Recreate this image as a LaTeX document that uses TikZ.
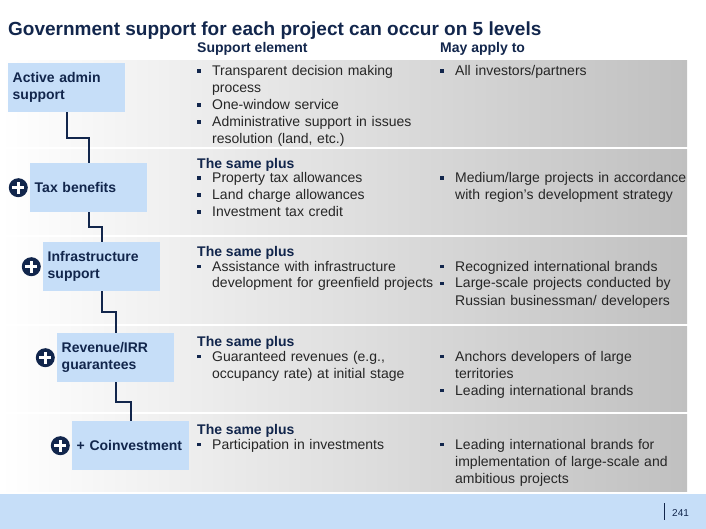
\documentclass[tikz,border=0pt]{standalone}
\usepackage{fontspec}
\setmainfont{Liberation Sans}
\usetikzlibrary{positioning}
\usetikzlibrary{calc}

\definecolor{navy}{RGB}{18,38,76}
\definecolor{boxblue}{RGB}{198,222,248}
\definecolor{txtgray}{RGB}{38,38,38}
\definecolor{bandgray}{RGB}{192,192,192}

\hyphenpenalty=10000
\exhyphenpenalty=10000
\newcommand{\bul}{\textcolor{navy}{\rule[3pt]{3.5pt}{3.5pt}}}
\newcommand{\fitm}{\noindent\hangindent=15pt\hangafter=1\makebox[15pt][l]{\bul}}
\newcommand{\itm}{\par\fitm}

\begin{document}
\begin{tikzpicture}[x=1pt, y=-1pt,
            lvl/.style={fill=boxblue, anchor=north west, minimum width=117pt,
            minimum height=49pt, text width=108pt, align=left, inner xsep=4.5pt,
            inner ysep=0pt, text=navy, font=\bfseries\fontsize{14}{17}\selectfont},
            plus/.style={circle, fill=navy, minimum size=19pt, inner sep=0pt,
            path picture={\draw[white, line width=2.5pt]
            ([xshift=-6pt]path picture bounding box.center) -- ([xshift=6pt]path picture bounding box.center)
            ([yshift=-6pt]path picture bounding box.center) -- ([yshift=6pt]path picture bounding box.center);}},
            link/.style={draw=navy, line width=2pt},
            hdr/.style={anchor=base west, inner sep=0pt, text=navy,
            font=\bfseries\fontsize{14}{17}\selectfont},
            cell/.style={anchor=base west, inner sep=0pt, text width=242pt,
            text=txtgray, font=\fontsize{14}{17}\selectfont},
            wide/.style={cell, text width=262pt}]
        \useasboundingbox (0,0) rectangle (706,529);

        % row bands
        \foreach \t/\b in {61/147, 150/235, 238/323, 326/411, 414/491}
            \fill[left color=white, right color=bandgray] (0,\t) rectangle (687,\b);
        \fill[boxblue] (0,494) rectangle (706,529);

        \node[anchor=base west, inner sep=0pt, text=navy,
            font=\bfseries\fontsize{19}{22}\selectfont] (title) at (8,36)
            {Government support for each project can occur on 5 levels};
        \node[hdr] (colsup) at (197,53) {Support element};
        \node[hdr] (colapp) at (440,53) {May apply to};

        % levels
        \node[lvl] (act) at (8,63) {Active admin\\support};
        \node[lvl] (tax) at (30,163) {Tax benefits};
        \node[lvl] (infra) at (43,242) {Infrastructure\\support};
        \node[lvl] (rev) at (57,333) {Revenue/IRR\\guarantees};
        \node[lvl] (coinv) at (72,421) {+ Coinvestment};

        \node[plus] (ptax) [left=2pt of tax] {};
        \node[plus] (pinfra) [left=2pt of infra] {};
        \node[plus] (prev) [left=2pt of rev] {};
        \node[plus] (pcoinv) [left=2pt of coinv] {};

        \draw[link] (act.south) |- ($(act.south)!.5!(tax.north)$) -| (tax.north);
        \draw[link] (tax.south) |- ($(tax.south)!.5!(infra.north)$) -| (infra.north);
        \draw[link] (infra.south) |- ($(infra.south)!.5!(rev.north)$) -| (rev.north);
        \draw[link] (rev.south) |- ($(rev.south)!.5!(coinv.north)$) -| (coinv.north);

        % support elements
        \node[cell] (sup1) at (197,76) {\fitm Transparent decision making\newline process
            \itm One-window service \itm Administrative support in issues\newline resolution (land, etc.)\par};
        \node[hdr] (same2) at (197,169) {The same plus};
        \node[cell] (sup2) at (197,183) {\fitm Property tax allowances
            \itm Land charge allowances \itm Investment tax credit\par};
        \node[hdr] (same3) at (197,256) {The same plus};
        \node[cell] (sup3) at (197,271) {\fitm Assistance with infrastructure\newline development for greenfield projects\par};
        \node[hdr] (same4) at (197,346) {The same plus};
        \node[cell] (sup4) at (197,361) {\fitm Guaranteed revenues (e.g.,\newline occupancy rate) at initial stage\par};
        \node[hdr] (same5) at (197,434) {The same plus};
        \node[cell] (sup5) at (197,449) {\fitm Participation in investments\par};

        % may apply to
        \node[wide] (app1) at (440,76) {\fitm All investors/partners\par};
        \node[wide] (app2) at (440,183) {\fitm Medium/large projects in accordance\newline with region's development strategy\par};
        \node[wide] (app3) at (440,271) {\fitm Recognized international brands
            \itm Large-scale projects conducted by\newline Russian businessman/ developers\par};
        \node[wide] (app4) at (440,361) {\fitm Anchors developers of large\newline territories
            \itm Leading international brands\par};
        \node[wide] (app5) at (440,449) {\fitm Leading international brands for\newline implementation of large-scale and\newline ambitious projects\par};

        \node[anchor=base west, inner sep=0pt, text=navy, font=\fontsize{10}{12}\selectfont]
            (page) at (672,516) {241};
        \draw[navy, line width=0.8pt] (664,503) -- (664,520);
    \end{tikzpicture}
\end{document}
